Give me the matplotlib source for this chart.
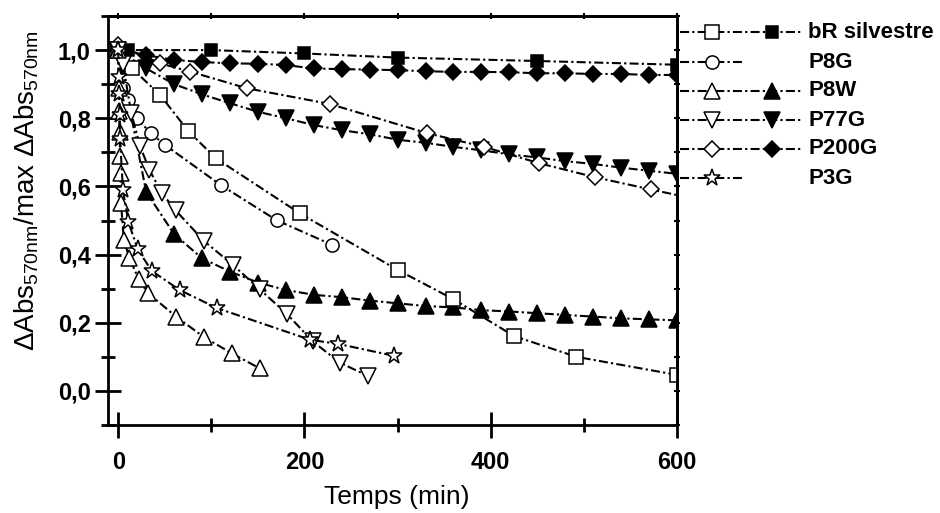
import matplotlib
matplotlib.use('Agg')
import matplotlib.pyplot as plt
from matplotlib.lines import Line2D
from matplotlib.ticker import MultipleLocator

# ---------------- data ----------------
t30 = [0, 30, 60, 90, 120, 150, 180, 210, 240, 270, 300, 330, 360, 390,
       420, 450, 480, 510, 540, 570, 600]

bR_open_t = [0, 15, 45, 75, 105, 195, 300, 360, 425, 492, 600]
bR_open_v = [1.0, 0.946, 0.868, 0.763, 0.682, 0.521, 0.355, 0.269, 0.161, 0.10, 0.047]
bR_fill_t = [0, 10, 100, 200, 300, 450, 600]
bR_fill_v = [1.0, 1.0, 1.0, 0.99, 0.978, 0.968, 0.957]

P8G_t = [0, 5, 10, 20, 35, 50, 110, 170, 230]
P8G_v = [1.0, 0.89, 0.855, 0.80, 0.756, 0.722, 0.604, 0.501, 0.428]

P8W_open_t = [0, 0.5, 1, 1.5, 2, 2.5, 3, 6, 12, 22, 32, 62, 92, 122, 152]
P8W_open_v = [1.0, 0.89, 0.82, 0.76, 0.69, 0.638, 0.55, 0.443, 0.39, 0.327,
              0.287, 0.218, 0.158, 0.11, 0.066]
P8W_fill_t = t30
P8W_fill_v = [1.0, 0.584, 0.46, 0.389, 0.35, 0.318, 0.296, 0.282, 0.275, 0.265,
              0.257, 0.249, 0.245, 0.237, 0.233, 0.228, 0.223, 0.218, 0.213, 0.21, 0.207]

P77G_open_t = [0, 5, 14, 23.5, 33.5, 47, 61.5, 92, 123, 152, 181, 209, 238, 268]
P77G_open_v = [1.0, 0.96, 0.814, 0.718, 0.648, 0.58, 0.53, 0.44, 0.37, 0.298,
               0.226, 0.145, 0.083, 0.044]
P77G_fill_t = t30
P77G_fill_v = [1.0, 0.946, 0.9, 0.87, 0.844, 0.819, 0.8, 0.78, 0.765, 0.753, 0.737,
               0.728, 0.716, 0.706, 0.694, 0.685, 0.674, 0.666, 0.655, 0.646, 0.637]

P200G_open_t = [0, 45, 77, 138, 227, 332, 393, 452, 512, 572, 632]
P200G_open_v = [1.015, 0.961, 0.937, 0.888, 0.842, 0.756, 0.716, 0.668, 0.627, 0.591, 0.556]
P200G_fill_t = t30
P200G_fill_v = [1.0, 0.985, 0.971, 0.965, 0.961, 0.96, 0.956, 0.946, 0.944, 0.943, 0.941,
                0.938, 0.936, 0.936, 0.935, 0.932, 0.932, 0.93, 0.93, 0.927, 0.927]

P3G_t = [0, 0.5, 1, 1.5, 2, 5, 11, 21, 36, 66, 106, 206, 236, 296]
P3G_v = [1.0, 0.92, 0.87, 0.81, 0.74, 0.59, 0.495, 0.415, 0.352, 0.296, 0.243,
         0.15, 0.138, 0.103]

legend_labels = ['bR silvestre', 'P8G', 'P8W', 'P77G', 'P200G', 'P3G']
x_ticks = [0, 200, 400, 600]
x_ticklabels = ['0', '200', '400', '600']
y_ticks = [0.0, 0.2, 0.4, 0.6, 0.8, 1.0]
y_ticklabels = ['0,0', '0,2', '0,4', '0,6', '0,8', '1,0']

# ---------------- style ----------------
plt.rcParams['font.family'] = ['Liberation Sans', 'DejaVu Sans']
plt.rcParams['mathtext.fontset'] = 'custom'
plt.rcParams['mathtext.rm'] = 'Liberation Sans'
plt.rcParams['mathtext.it'] = 'Liberation Sans:italic'
plt.rcParams['lines.scale_dashes'] = False

W, H = 940, 513
fig = plt.figure(figsize=(W / 100, H / 100), dpi=100)
ax = fig.add_axes([108 / W, 1 - 425 / H, (677 - 108) / W, (425 - 16) / H])

DASH = (6.5, 2.3, 1.6, 2.3)
LW = 1.5
MEW = 1.1

def series(t, v, marker, filled, ms):
    ax.plot(t, v, color='black', lw=LW, dashes=DASH, marker=marker, ms=ms,
            mfc='black' if filled else 'white', mec='black', mew=MEW)

series(P200G_fill_t, P200G_fill_v, 'D', True, 8.5)
series(bR_fill_t, bR_fill_v, 's', True, 9)
series(P77G_fill_t, P77G_fill_v, 'v', True, 11)
series(P8W_fill_t, P8W_fill_v, '^', True, 11)
series(P200G_open_t, P200G_open_v, 'D', False, 8.5)
series(bR_open_t, bR_open_v, 's', False, 9.5)
series(P8G_t, P8G_v, 'o', False, 9.5)
series(P77G_open_t, P77G_open_v, 'v', False, 11)
series(P8W_open_t, P8W_open_v, '^', False, 11)
series(P3G_t, P3G_v, '*', False, 12.5)

ax.set_xlim(-11, 600)
ax.set_ylim(-0.1, 1.1)

ax.set_xticks(x_ticks)
ax.set_xticklabels(x_ticklabels, fontweight='bold')
ax.set_yticks(y_ticks)
ax.set_yticklabels(y_ticklabels, fontweight='bold')
ax.xaxis.set_minor_locator(MultipleLocator(100))
ax.yaxis.set_minor_locator(MultipleLocator(0.1))
ax.tick_params(which='major', direction='inout', length=19, width=2,
               labelsize=17, top=False, right=False)
ax.tick_params(which='minor', direction='inout', length=10, width=2,
               top=False, right=False)
ax.tick_params(axis='y', which='major', pad=3)
ax.tick_params(axis='x', which='major', pad=9)
for s in ax.spines.values():
    s.set_linewidth(2)

secx = ax.secondary_xaxis('top')
secx.set_xticks(list(range(0, 601, 100)))
secx.tick_params(direction='inout', length=5, width=1.5, labeltop=False)
secx.spines['top'].set_linewidth(2)
secy = ax.secondary_yaxis('right')
secy.set_yticks([i / 10 for i in range(-1, 12)])
secy.tick_params(direction='inout', length=5, width=1.5, labelright=False)
secy.spines['right'].set_linewidth(2)

ax.set_xlabel('Temps (min)', fontsize=19)
ax.xaxis.set_label_coords((397 - 108) / 569, (425 - 497) / 409)
ax.xaxis.label.set_verticalalignment('center')
ax.set_ylabel(r'ΔAbs$_{\mathrm{570nm}}$/max ΔAbs$_{\mathrm{570nm}}$', fontsize=20)
ax.yaxis.set_label_coords((27 - 108) / 569, (425 - 191) / 409)
ax.yaxis.label.set_verticalalignment('center')

# ---------------- manual legend (figure pixel coords) ----------------
def fx(x):
    return x / W

def fy(y):
    return 1 - y / H

leg_markers = [('s', True, 9.5, 9), ('o', False, 9.5, None), ('^', True, 11, 11),
               ('v', True, 11, 11), ('D', True, 8.5, 8.5), ('*', False, 12.5, None)]
rows_y = [32, 62, 91, 120, 149, 178]
for lab, (mk, paired, ms_o, ms_f), yy in zip(legend_labels, leg_markers, rows_y):
    x_end = 802 if paired else 742
    fig.add_artist(Line2D([fx(680), fx(x_end)], [fy(yy), fy(yy)], color='black',
                          lw=LW, dashes=DASH, transform=fig.transFigure))
    fig.add_artist(Line2D([fx(712)], [fy(yy)], marker=mk, ms=ms_o, mfc='white',
                          mec='black', mew=MEW, ls='none', transform=fig.transFigure))
    if paired:
        fig.add_artist(Line2D([fx(772)], [fy(yy)], marker=mk, ms=ms_f, mfc='black',
                              mec='black', mew=MEW, ls='none', transform=fig.transFigure))
    fig.text(fx(808), fy(yy), lab, fontsize=16, fontweight='bold',
             ha='left', va='center')

fig.savefig('out.png', dpi=100)
